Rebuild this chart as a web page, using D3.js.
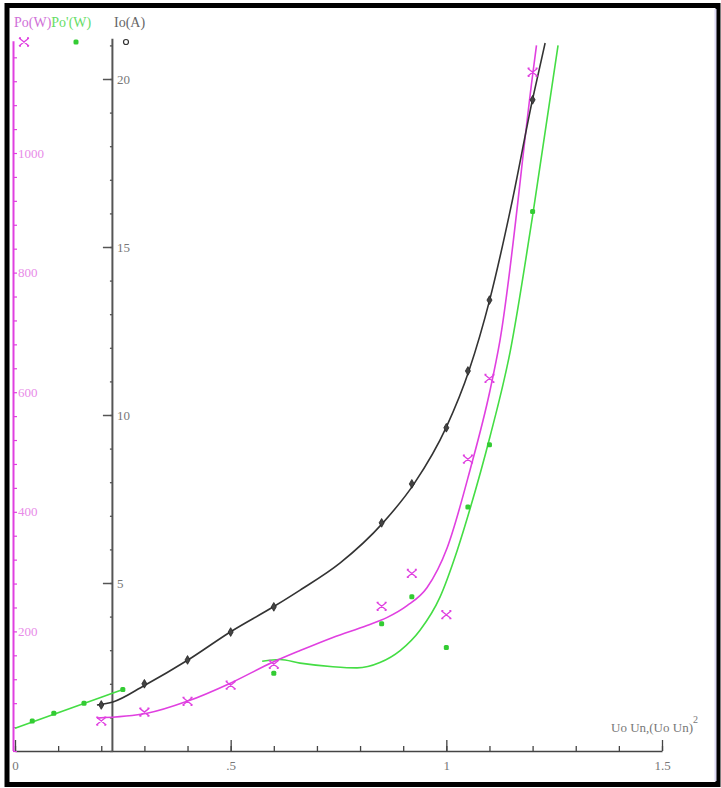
<!DOCTYPE html>
<html>
<head>
<meta charset="utf-8">
<script src="https://cdn.jsdelivr.net/npm/d3@7"></script>
<style>
  body { margin: 0; background: #fff; }
  svg { display: block; }
</style>
</head>
<body>
<div id="chart"></div>
<script>
// measured points, x = Uo/Un (or (Uo/Un)^2 for the first green ones)
var uIo = [0.2, 0.3, 0.4, 0.5, 0.6, 0.85, 0.92, 1.0, 1.05, 1.1, 1.2];
var ioValues = [1.37, 2.0, 2.71, 3.54, 4.29, 6.79, 7.95, 9.62, 11.31, 13.42, 19.38];

var uPo = [0.2, 0.3, 0.4, 0.5, 0.6, 0.85, 0.92, 1.0, 1.05, 1.1, 1.2];
var poValues = [50, 65, 83, 110, 145, 242, 297, 228, 488, 623, 1135];

var uPo2 = [0.04, 0.09, 0.16, 0.25, 0.6, 0.85, 0.92, 1.0, 1.05, 1.1, 1.2];
var po2Values = [50, 63, 80, 103, 130, 213, 258, 173, 408, 512, 902];

// fitted curves
var ioFitU = [0.19, 0.227, 0.3, 0.4, 0.5, 0.6, 0.661, 0.754, 0.853, 0.925, 1.0, 1.053, 1.101, 1.15, 1.2, 1.229];
var ioFit = [1.37, 1.46, 1.95, 2.70, 3.55, 4.30, 4.79, 5.6, 6.79, 7.95, 9.64, 11.34, 13.45, 16.2, 19.4, 21.07];

var poFitU = [0.19, 0.306, 0.399, 0.498, 0.596, 0.661, 0.737, 0.816, 0.862, 0.909, 0.955, 1.002, 1.055, 1.101, 1.124, 1.2, 1.209];
var poFit = [55, 63, 83, 113, 148, 168, 190, 210, 223, 243, 273, 340, 470, 602, 685, 1130, 1180];

var po2LineU = [0, 0.25];
var po2Line = [38, 103];
var po2FitU = [0.573, 0.614, 0.661, 0.737, 0.793, 0.846, 0.893, 0.939, 0.985, 1.025, 1.055, 1.101, 1.148, 1.2, 1.259];
var po2Fit = [150, 153, 147, 141, 139, 148, 168, 202, 257, 335, 405, 525, 668, 895, 1180];

// ticks
var xMajor = [0, 0.5, 1, 1.5];
var xLabels = ["0", ".5", "1", "1.5"];
var ioMajor = [5, 10, 15, 20];
var poMajor = [200, 400, 600, 800, 1000];

var W = 721, H = 788;
var pink = "#e040e0", green = "#44dd44", dark = "#333";

var svg = d3.select("#chart").append("svg")
  .attr("width", W).attr("height", H);

// scales
var x = d3.scaleLinear().domain([0, 1.5]).range([15, 662]);
var yIo = d3.scaleLinear().domain([0, 20]).range([751, 79]);
var yPo = d3.scaleLinear().domain([0, 1000]).range([751, 153]);

var serif = "'Liberation Serif', 'DejaVu Serif', serif";

// frame
svg.append("rect")
  .attr("x", 7).attr("y", 5.5).attr("width", 711).attr("height", 779)
  .attr("fill", "none").attr("stroke", "#000").attr("stroke-width", 5);
svg.append("line")
  .attr("x1", 715.5).attr("x2", 715.5).attr("y1", 9).attr("y2", 781)
  .attr("stroke", "#dcd8f4").attr("stroke-width", 2);

// x axis, ticks pointing up
var xMinor = d3.range(0, 1.51, 0.1).map(function(d) { return +d.toFixed(2); });
svg.append("g")
  .attr("transform", "translate(0,751)")
  .call(d3.axisBottom(x).tickValues(xMinor).tickSize(-5).tickFormat("").tickSizeOuter(0))
  .call(function(g) { g.select(".domain").attr("stroke", "#444").attr("stroke-width", 1.5); })
  .call(function(g) { g.selectAll(".tick line").attr("stroke", "#444").attr("stroke-width", 1.3); });
svg.append("g")
  .attr("transform", "translate(0,751)")
  .call(d3.axisBottom(x).tickValues(xMajor).tickSize(-11).tickPadding(10)
    .tickFormat(function(d, i) { return xLabels[i]; }))
  .call(function(g) { g.select(".domain").remove(); })
  .call(function(g) { g.selectAll(".tick line").attr("stroke", "#444").attr("stroke-width", 1.3); })
  .call(function(g) {
    g.selectAll(".tick text").attr("fill", "#777").attr("font-family", serif).attr("font-size", 13);
  });

// pink Po axis at the left
var poMinor = d3.range(0, 1161, 40);
svg.append("g")
  .attr("transform", "translate(13,0)")
  .call(d3.axisRight(yPo).tickValues(poMinor).tickSize(4).tickFormat("").tickSizeOuter(0))
  .call(function(g) {
    g.select(".domain").attr("d", "M0.5," + yPo(1187) + "V751").attr("stroke", pink).attr("stroke-width", 2);
    g.selectAll(".tick line").attr("stroke", pink).attr("stroke-width", 1.2);
  });
svg.append("g")
  .attr("transform", "translate(13,0)")
  .call(d3.axisRight(yPo).tickValues(poMajor).tickSize(0).tickPadding(5).tickFormat(d3.format("d")))
  .call(function(g) { g.select(".domain").remove(); })
  .call(function(g) {
    g.selectAll(".tick text").attr("fill", "#e88be8").attr("font-family", serif).attr("font-size", 13);
  });

// black Io axis
var ioAxisX = x(0.227);
var ioMinor = d3.range(0, 22, 1);
svg.append("g")
  .attr("transform", "translate(" + ioAxisX + ",0)")
  .call(d3.axisLeft(yIo).tickValues(ioMinor).tickSize(3).tickFormat("").tickSizeOuter(0))
  .call(function(g) {
    g.select(".domain").attr("d", "M-0.5," + yIo(21.2) + "V751").attr("stroke", "#555").attr("stroke-width", 2);
    g.selectAll(".tick line").attr("stroke", "#555").attr("stroke-width", 1.3);
  });
svg.append("g")
  .attr("transform", "translate(" + ioAxisX + ",0)")
  .call(d3.axisLeft(yIo).tickValues(ioMajor).tickSize(10).tickFormat(""))
  .call(function(g) { g.select(".domain").remove(); })
  .call(function(g) { g.selectAll(".tick line").attr("stroke", "#555").attr("stroke-width", 1.5); });
svg.append("g")
  .attr("transform", "translate(" + ioAxisX + ",0)")
  .call(d3.axisRight(yIo).tickValues(ioMajor).tickSize(0).tickPadding(4))
  .call(function(g) { g.select(".domain").remove(); })
  .call(function(g) {
    g.selectAll(".tick text").attr("fill", "#777").attr("font-family", serif).attr("font-size", 13);
  });

// axis titles
var titles = svg.append("text").attr("y", 27).attr("font-family", serif).attr("font-size", 14);
titles.append("tspan").attr("x", 14).attr("fill", "#d070d8").text("Po(W)");
titles.append("tspan").attr("fill", "#66dd66").text("Po'(W)");
svg.append("text").attr("x", 114).attr("y", 27)
  .attr("font-family", serif).attr("font-size", 14).attr("fill", "#666").text("Io(A)");

var xt = svg.append("text").attr("x", 611).attr("y", 732)
  .attr("font-family", serif).attr("font-size", 13).attr("fill", "#777");
xt.append("tspan").text("Uo Un,(Uo Un)");
xt.append("tspan").attr("dy", -9).attr("font-size", 10).text("2");

// curves
function pairs(us, vs) { return us.map(function(u, i) { return [u, vs[i]]; }); }

function drawCurve(us, vs, ys, color) {
  svg.append("path")
    .datum(pairs(us, vs))
    .attr("fill", "none")
    .attr("stroke", color)
    .attr("stroke-width", 1.6)
    .attr("d", d3.line()
      .x(function(d) { return x(d[0]); })
      .y(function(d) { return ys(d[1]); })
      .curve(d3.curveMonotoneX));
}

drawCurve(po2LineU, po2Line, yPo, green);
drawCurve(po2FitU, po2Fit, yPo, green);
drawCurve(poFitU, poFit, yPo, pink);
drawCurve(ioFitU, ioFit, yIo, dark);

// markers
var crossPath = "M-5,-4L5,4M-5,4L5,-4M-5,-4H-3M-5,4H-3M3,-4H5M3,4H5";

function crosses(sel, pts) {
  sel.selectAll(null).data(pts).enter().append("path")
    .attr("transform", function(d) { return "translate(" + d[0] + "," + d[1] + ")"; })
    .attr("d", crossPath)
    .attr("fill", "none").attr("stroke", pink).attr("stroke-width", 1.3);
}
function dots(sel, pts) {
  sel.selectAll(null).data(pts).enter().append("rect")
    .attr("x", function(d) { return d[0] - 2.5; })
    .attr("y", function(d) { return d[1] - 2.5; })
    .attr("width", 5).attr("height", 5).attr("rx", 1.5)
    .attr("fill", "#33cc33");
}
function diamonds(sel, pts) {
  sel.selectAll(null).data(pts).enter().append("path")
    .attr("transform", function(d) { return "translate(" + d[0] + "," + d[1] + ")"; })
    .attr("d", d3.symbol().type(d3.symbolDiamond).size(22))
    .attr("fill", "#444").attr("stroke", "#222").attr("stroke-width", 0.8);
}

crosses(svg.append("g"), pairs(uPo, poValues).map(function(d) { return [x(d[0]), yPo(d[1])]; }));
dots(svg.append("g"), pairs(uPo2, po2Values).map(function(d) { return [x(d[0]), yPo(d[1])]; }));
diamonds(svg.append("g"), pairs(uIo, ioValues).map(function(d) { return [x(d[0]), yIo(d[1])]; }));

// legend glyphs under the titles
crosses(svg.append("g"), [[24, 42]]);
dots(svg.append("g"), [[76, 42]]);
svg.append("circle").attr("cx", 126).attr("cy", 42).attr("r", 2.5)
  .attr("fill", "none").attr("stroke", "#333").attr("stroke-width", 1.2);
</script>
</body>
</html>
